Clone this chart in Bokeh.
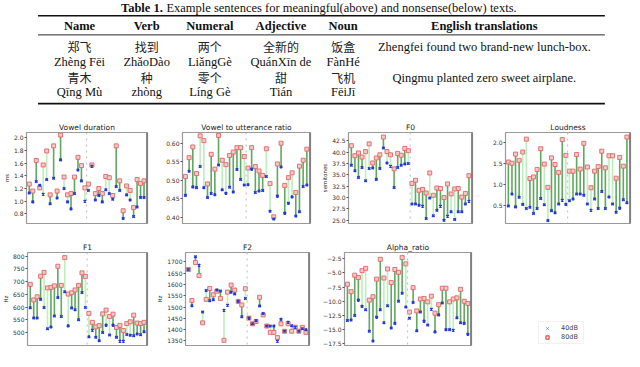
from bokeh.plotting import figure
from bokeh.models import Range1d, ColumnDataSource, FixedTicker, Span, Legend, LegendItem
from bokeh.layouts import column, row
from bokeh.embed import file_html
from bokeh.resources import INLINE
from bokeh.core.properties import value

# ---------------- table data ----------------
caption_bold = "Table 1."
caption_rest = "Example sentences for meaningful(above) and nonsense(below) texts."
headers = ["Name", "Verb", "Numeral", "Adjective", "Noun", "English translations"]
row1_cn = ["郑飞", "找到", "两个", "全新的", "饭盒"]
row1_py = ["Zhèng Fēi", "ZhǎoDào", "LiǎngGè", "QuánXīn de", "FànHé"]
row2_cn = ["青木", "种", "零个", "甜", "飞机"]
row2_py = ["Qīng Mù", "zhòng", "Líng Gè", "Tián", "FēiJī"]
english = ["Zhengfei found two brand-new lunch-box.", "Qingmu planted zero sweet airplane."]

# ---------------- chart data (40dB / 80dB per item) ----------------
vd_40 = [1.13, 0.99, 1.31, 1.25, 1.11, 1.34, 0.96, 1.36, 1.05, 1.65, 1.20, 0.99, 0.88, 1.12, 1.49, 1.32, 1.00,
         1.17, 1.55, 1.02, 1.09, 0.99, 1.18, 1.12, 1.03, 1.23, 1.17, 0.73, 1.10, 1.02, 0.76, 0.91, 1.06, 1.06]
vd_80 = [1.27, 1.16, 1.64, 1.21, 1.57, 1.79, 1.10, 1.87, 1.16, 2.04, 1.38, 1.10, 1.12, 1.38, 1.69, 1.56, 1.21,
         1.27, 1.57, 1.12, 1.20, 1.12, 1.39, 1.37, 1.09, 1.87, 1.32, 0.85, 1.24, 1.17, 0.90, 1.34, 1.28, 1.32]

vr_40 = [0.459, 0.524, 0.482, 0.480, 0.537, 0.480, 0.453, 0.464, 0.461, 0.541, 0.474, 0.465, 0.481, 0.468, 0.529, 0.502, 0.487,
         0.488, 0.530, 0.467, 0.471, 0.472, 0.510, 0.416, 0.395, 0.457, 0.536, 0.411, 0.438, 0.455, 0.403, 0.415, 0.483, 0.487]
vr_80 = [0.510, 0.561, 0.590, 0.518, 0.620, 0.607, 0.490, 0.570, 0.530, 0.621, 0.554, 0.542, 0.567, 0.576, 0.588, 0.588, 0.564,
         0.533, 0.588, 0.537, 0.525, 0.513, 0.585, 0.491, 0.401, 0.544, 0.600, 0.486, 0.507, 0.520, 0.467, 0.538, 0.554, 0.584]

f0_40 = [37.1, 35.9, 34.4, 36.6, 33.7, 36.4, 36.5, 34.0, 36.4, 40.9, 37.6, 36.9, 32.2, 36.6, 37.1, 37.4, 37.5,
         28.6, 28.6, 28.3, 28.1, 25.4, 29.9, 26.0, 27.2, 28.1, 25.0, 25.9, 26.9, 25.2, 26.9, 26.9, 28.6, 29.2]
f0_80 = [41.4, 39.2, 39.8, 38.9, 40.1, 41.8, 37.6, 38.7, 39.4, 43.3, 40.1, 39.4, 36.3, 39.7, 39.3, 40.8, 40.3,
         33.1, 33.8, 31.6, 31.8, 31.0, 35.4, 30.5, 32.1, 32.0, 30.0, 33.0, 30.8, 31.9, 32.0, 30.1, 30.9, 34.8]

ld_40 = [0.48, 0.77, 0.46, 0.69, 0.52, 0.42, 0.45, 0.30, 0.42, 0.66, 0.51, 0.13, 0.37, 0.32, 0.53, 0.62, 0.52,
         0.61, 0.65, 0.77, 0.77, 0.74, 0.53, 0.38, 0.65, 0.42, 0.83, 0.42, 0.70, 0.53, 0.33, 0.43, 0.63, 0.56]
ld_80 = [1.54, 1.51, 1.73, 1.58, 1.78, 2.09, 1.14, 1.18, 1.36, 1.86, 1.49, 0.93, 1.64, 1.48, 1.29, 2.08, 1.70,
         1.32, 1.32, 1.72, 1.37, 1.99, 1.42, 0.92, 1.32, 1.43, 1.80, 1.40, 1.69, 1.69, 1.15, 1.65, 1.44, 2.14]

f1_40 = [597, 557, 557, 630, 598, 515, 522, 565, 637, 563, 660, 526, 596, 589, 550, 657, 598,
         483, 509, 481, 468, 500, 529, 490, 529, 481, 466, 466, 492, 489, 487, 494, 491, 503]
f1_80 = [689, 628, 640, 721, 736, 675, 677, 683, 760, 685, 794, 651, 656, 667, 685, 734, 720,
         575, 540, 522, 527, 573, 588, 563, 572, 520, 528, 508, 535, 542, 568, 537, 535, 540]

f2_40 = [1666, 1506, 1722, 1685, 1478, 1573, 1528, 1532, 1575, 1571, 1486, 1508, 1565, 1558, 1525, 1457, 1538,
         1451, 1426, 1440, 1505, 1471, 1416, 1416, 1416, 1349, 1446, 1393, 1433, 1417, 1411, 1393, 1404, 1400]
f2_80 = [1666, 1529, 1697, 1639, 1430, 1534, 1582, 1554, 1570, 1538, 1353, 1566, 1597, 1575, 1525, 1509, 1581,
         1451, 1426, 1436, 1543, 1465, 1416, 1388, 1388, 1365, 1426, 1393, 1426, 1393, 1411, 1393, 1410, 1388]

ar_40 = [-13.4, -13.3, -12.5, -9.8, -10.9, -11.5, -15.3, -17.0, -12.8, -11.5, -13.8, -10.8, -14.7, -13.9, -10.0, -8.6, -11.0,
         -13.0, -10.2, -15.2, -11.9, -13.5, -14.2, -11.4, -15.4, -12.4, -10.3, -15.0, -15.0, -15.1, -12.9, -13.8, -13.9, -15.8]
ar_80 = [-7.0, -8.3, -5.4, -5.8, -4.6, -4.2, -9.8, -9.2, -6.1, -2.6, -5.9, -4.3, -6.7, -4.4, -4.9, -2.3, -3.4,
         -11.9, -7.6, -11.7, -9.6, -9.5, -10.1, -9.1, -12.1, -10.6, -7.7, -7.7, -10.1, -9.6, -9.4, -7.9, -10.0, -10.4]

# tick values / labels
vd_ticks = [0.8, 1.0, 1.2, 1.4, 1.6, 1.8, 2.0]
vd_labels = ["0.8", "1.0", "1.2", "1.4", "1.6", "1.8", "2.0"]
vr_ticks = [0.40, 0.45, 0.50, 0.55, 0.60]
vr_labels = ["0.40", "0.45", "0.50", "0.55", "0.60"]
f0_ticks = [25.0, 27.5, 30.0, 32.5, 35.0, 37.5, 40.0, 42.5]
f0_labels = ["25.0", "27.5", "30.0", "32.5", "35.0", "37.5", "40.0", "42.5"]
ld_ticks = [0.5, 1.0, 1.5, 2.0]
ld_labels = ["0.5", "1.0", "1.5", "2.0"]
f1_ticks = [500, 550, 600, 650, 700, 750, 800]
f1_labels = ["500", "550", "600", "650", "700", "750", "800"]
f2_ticks = [1350, 1400, 1450, 1500, 1550, 1600, 1650, 1700]
f2_labels = ["1350", "1400", "1450", "1500", "1550", "1600", "1650", "1700"]
ar_ticks = [-17.5, -15.0, -12.5, -10.0, -7.5, -5.0, -2.5]
ar_labels = ["\u221217.5", "\u221215.0", "\u221212.5", "\u221210.0", "\u22127.5", "\u22125.0", "\u22122.5"]

BLUE = "#2439d0"
RED_LINE = "#e06666"
RED_FILL = "#f7c8c8"
DARK_G = "#5fa85f"
LIGHT_G = "#bdeebd"
FONT = "DejaVu Sans"


def panel(title, v40, v80, yr, ticks, labels, ylabel, width, height, left, right, top, bottom):
    n = len(v40)
    idx = list(range(n))
    cols = [LIGHT_G if (i % 6) in (4, 5) else DARK_G for i in idx]
    src = ColumnDataSource(dict(x=idx, a=v40, b=v80, c=cols))
    p = figure(width=width, height=height, output_backend="svg", toolbar_location=None,
               x_range=Range1d(-0.8, n), y_range=Range1d(*yr), x_axis_location=None,
               min_border_left=left, min_border_right=right, min_border_top=top, min_border_bottom=bottom,
               title=title)
    p.title.text_font = FONT
    p.title.text_font_size = "7.5px"
    p.title.text_font_style = "normal"
    p.title.align = "center"
    p.title.standoff = 2
    p.title.text_color = "#222222"
    p.xgrid.visible = False
    p.ygrid.visible = False
    p.outline_line_color = "#9a9a9a"
    p.outline_line_width = 1.2
    ya = p.yaxis[0]
    ya.ticker = FixedTicker(ticks=ticks)
    ya.major_label_overrides = {t: l for t, l in zip(ticks, labels)}
    ya.major_label_text_font = FONT
    ya.major_label_text_font_size = "6px"
    ya.major_label_text_color = "#333333"
    ya.major_label_standoff = 1
    ya.major_tick_out = 2
    ya.major_tick_in = 0
    ya.major_tick_line_color = "#555555"
    ya.minor_tick_line_color = None
    ya.axis_line_color = None
    if ylabel:
        ya.axis_label = ylabel
        ya.axis_label_text_font = FONT
        ya.axis_label_text_font_size = "5.5px"
        ya.axis_label_text_font_style = "normal"
        ya.axis_label_standoff = 1
        ya.axis_label_text_color = "#222222"
    p.add_layout(Span(location=(n - 1) / 2.0, dimension="height", line_color="#bbbbbb",
                      line_dash="dotted", line_width=1))
    p.add_layout(Span(location=n, dimension="height", line_color="#666666", line_width=2.5))
    p.segment(x0="x", y0="a", x1="x", y1="b", source=src, line_color="c", line_width=1.6)
    p.scatter(x="x", y="b", source=src, marker="square", size=4, line_color=RED_LINE,
              fill_color=RED_FILL, line_width=0.9)
    p.scatter(x="x", y="a", source=src, marker="x", size=3.5, line_color=BLUE, line_width=1.5)
    return p


# ---------------- table figure ----------------
tbl = figure(width=632, height=110, output_backend="svg", toolbar_location=None,
             x_range=Range1d(0, 640), y_range=Range1d(112, 0),
             x_axis_location=None, y_axis_location=None,
             min_border=0, min_border_left=0, min_border_right=0, min_border_top=0, min_border_bottom=0)
tbl.grid.visible = False
tbl.outline_line_color = None

SERIF = "Liberation Serif"
CJK = "Noto Sans CJK SC"
col_x = [80, 148, 212, 284, 347, 490]
rule_x0, rule_x1 = 38, 612

tbl.text(x=[122], y=[7.5], text=[caption_bold], text_font=value(SERIF), text_font_style="bold",
         text_font_size=value("12.5px"), text_align="left", text_baseline="middle", text_color="#111111")
tbl.text(x=[168], y=[7.5], text=[caption_rest], text_font=value(SERIF),
         text_font_size=value("12.5px"), text_align="left", text_baseline="middle", text_color="#111111")
tbl.segment(x0=[rule_x0, rule_x0, rule_x0], y0=[15.5, 35, 105], x1=[rule_x1, rule_x1, rule_x1], y1=[15.5, 35, 105],
            line_color="#111111", line_width=[1.6, 0.9, 1.6])
tbl.text(x=col_x, y=[25.5] * len(headers), text=headers, text_font=value(SERIF), text_font_style="bold",
         text_font_size=value("12.5px"), text_align="center", text_baseline="middle", text_color="#111111")
tbl.text(x=col_x[:5], y=[47] * 5, text=row1_cn, text_font=value(CJK), text_font_size=value("12px"),
         text_align="center", text_baseline="middle", text_color="#222222")
tbl.text(x=col_x[:5], y=[63] * 5, text=row1_py, text_font=value(SERIF), text_font_size=value("12.5px"),
         text_align="center", text_baseline="middle", text_color="#111111")
tbl.text(x=col_x[:5], y=[78] * 5, text=row2_cn, text_font=value(CJK), text_font_size=value("12px"),
         text_align="center", text_baseline="middle", text_color="#222222")
tbl.text(x=col_x[:5], y=[93.5] * 5, text=row2_py, text_font=value(SERIF), text_font_size=value("12.5px"),
         text_align="center", text_baseline="middle", text_color="#111111")
tbl.text(x=[col_x[5]] * 2, y=[47, 79], text=english, text_font=value(SERIF), text_font_size=value("12.5px"),
         text_align="center", text_baseline="middle", text_color="#111111")

# ---------------- panels ----------------
p1 = panel("Vowel duration", vd_40, vd_80, (0.65, 2.08), vd_ticks, vd_labels, "ms", 163, 121, 21, 16, 22, 8)
p2 = panel("Vowel to utterance ratio", vr_40, vr_80, (0.383, 0.629), vr_ticks, vr_labels, None, 156, 121, 18, 9, 22, 8)
p3 = panel("F0", f0_40, f0_80, (24.3, 44.3), f0_ticks, f0_labels, "semitones", 168, 121, 26, 15, 22, 8)
p4 = panel("Loudness", ld_40, ld_80, (0.06, 2.25), ld_ticks, ld_labels, None, 145, 121, 18, 2, 22, 8)

q1 = panel("F1", f1_40, f1_80, (449, 814), f1_ticks, f1_labels, "Hz", 154, 128, 21, 7, 21, 14)
q2 = panel("F2", f2_40, f2_80, (1330, 1741), f2_ticks, f2_labels, "Hz", 164, 128, 27, 9, 21, 14)
q3 = panel("Alpha_ratio", ar_40, ar_80, (-17.8, -1.4), ar_ticks, ar_labels, None, 166, 128, 26, 13, 21, 14)

# legend panel
lg = figure(width=148, height=128, output_backend="svg", toolbar_location=None,
            x_range=Range1d(0, 1), y_range=Range1d(0, 1),
            x_axis_location=None, y_axis_location=None,
            min_border_left=0, min_border_right=0, min_border_top=0, min_border_bottom=0)
lg.grid.visible = False
lg.outline_line_color = None
hidden = ColumnDataSource(dict(x=[-5], y=[-5]))
r40 = lg.scatter(x="x", y="y", source=hidden, marker="x", size=7, line_color="#6f80f0", line_width=1)
r80 = lg.scatter(x="x", y="y", source=hidden, marker="square", size=7, line_color="#e04848",
                 fill_color=None, line_width=1.2)
legend = Legend(items=[LegendItem(label="40dB", renderers=[r40]), LegendItem(label="80dB", renderers=[r80])],
                location=(54, 1), label_text_font=FONT, label_text_font_size="6.5px",
                glyph_height=8, glyph_width=12, label_height=8, spacing=1, padding=2, margin=0,
                label_standoff=8, border_line_color="#e4e4e4", border_line_width=1)
lg.add_layout(legend)

layout = column(tbl, row(p1, p2, p3, p4), row(q1, q2, q3, lg))

with open("out.html", "w") as f:
    f.write(file_html(layout, INLINE))
